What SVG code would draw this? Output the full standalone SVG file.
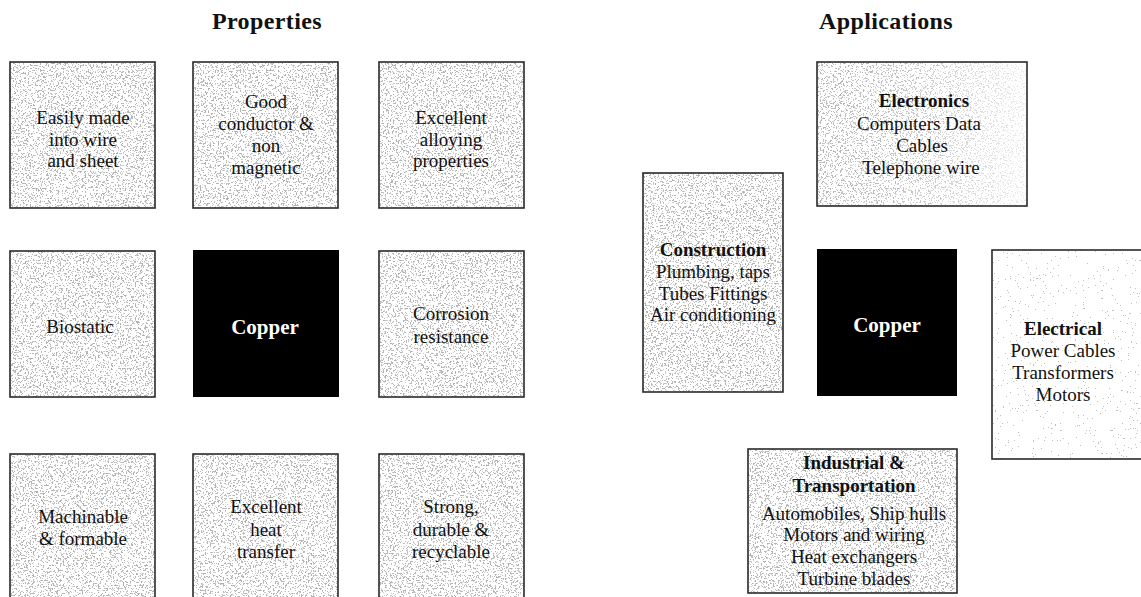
<svg xmlns="http://www.w3.org/2000/svg" width="1141" height="597" viewBox="0 0 1141 597">
  <defs>
    <!-- speckled print texture for the boxes -->
    <filter id="grain" x="0" y="0" width="1" height="1">
      <feTurbulence type="fractalNoise" baseFrequency="0.6" numOctaves="3" seed="7" result="n"/>
      <feColorMatrix in="n" type="matrix" values="0 0 0 0 0.42  0 0 0 0 0.42  0 0 0 0 0.42  3 0 0 0 -1.05" result="a"/>
      <feComponentTransfer in="a">
        <feFuncA type="discrete" tableValues="0 0 0 0 0 0 0 0.6 0.8 0.95"/>
      </feComponentTransfer>
      <feComposite in2="SourceGraphic" operator="in"/>
    </filter>
    <filter id="grainLight" x="0" y="0" width="1" height="1">
      <feTurbulence type="fractalNoise" baseFrequency="0.6" numOctaves="3" seed="3" result="n"/>
      <feColorMatrix in="n" type="matrix" values="0 0 0 0 0.45  0 0 0 0 0.45  0 0 0 0 0.45  4 0 0 0 -2.1" result="a"/>
      <feComponentTransfer in="a">
        <feFuncA type="discrete" tableValues="0 0 0 0 0 0 0 0 0 0.8"/>
      </feComponentTransfer>
      <feComposite in2="SourceGraphic" operator="in"/>
    </filter>
    <!-- fades the speckle toward the right edge of the electronics box -->
    <linearGradient id="fadeR" x1="0" y1="0" x2="1" y2="0">
      <stop offset="0" stop-color="#fff" stop-opacity="1"/>
      <stop offset="0.45" stop-color="#fff" stop-opacity="0.8"/>
      <stop offset="1" stop-color="#fff" stop-opacity="0.25"/>
    </linearGradient>
    <mask id="fadeMask" maskContentUnits="objectBoundingBox">
      <rect width="1" height="1" fill="url(#fadeR)"/>
    </mask>
    <style>
      .box { fill: none; stroke: #2a2a2a; stroke-width: 1.6; }
      .tex { fill: #ffffff; filter: url(#grain); }
      .texL { fill: #ffffff; filter: url(#grainLight); }
      .core { fill: #000000; }
      text { font-family: "Liberation Serif", "Times New Roman", serif; text-anchor: middle; fill: #111; }
      .t { font-size: 19px; }
      .b { font-size: 19px; font-weight: bold; }
      .title { font-size: 24px; font-weight: bold; letter-spacing: 0.4px; }
      .cu { font-size: 21px; font-weight: bold; fill: #ffffff; }
    </style>
  </defs>

  <rect width="1141" height="597" fill="#ffffff"/>

  <!-- headings -->
  <g id="heading-properties"><text class="title" x="267" y="29">Properties</text></g>
  <g id="heading-applications"><text class="title" x="886" y="29">Applications</text></g>

  <!-- Properties grid -->
  <g id="p-wire">
    <rect class="tex" x="10" y="62" width="145" height="146"/>
    <rect class="box" x="10" y="62" width="145" height="146"/>
    <text class="t" x="83" y="124">Easily made</text>
    <text class="t" x="83" y="146">into wire</text>
    <text class="t" x="83" y="167">and sheet</text>
  </g>
  <g id="p-conductor">
    <rect class="tex" x="193" y="62" width="145" height="146"/>
    <rect class="box" x="193" y="62" width="145" height="146"/>
    <text class="t" x="266" y="108">Good</text>
    <text class="t" x="266" y="130">conductor &amp;</text>
    <text class="t" x="266" y="152">non</text>
    <text class="t" x="266" y="174">magnetic</text>
  </g>
  <g id="p-alloying">
    <rect class="tex" x="379" y="62" width="145" height="146"/>
    <rect class="box" x="379" y="62" width="145" height="146"/>
    <text class="t" x="451" y="124">Excellent</text>
    <text class="t" x="451" y="146">alloying</text>
    <text class="t" x="451" y="167">properties</text>
  </g>
  <g id="p-biostatic">
    <rect class="tex" x="10" y="251" width="145" height="146"/>
    <rect class="box" x="10" y="251" width="145" height="146"/>
    <text class="t" x="80" y="333">Biostatic</text>
  </g>
  <g id="p-copper">
    <rect class="core" x="193" y="250" width="146" height="147"/>
    <text class="cu" x="265" y="334">Copper</text>
  </g>
  <g id="p-corrosion">
    <rect class="tex" x="379" y="251" width="145" height="146"/>
    <rect class="box" x="379" y="251" width="145" height="146"/>
    <text class="t" x="451" y="320">Corrosion</text>
    <text class="t" x="451" y="343">resistance</text>
  </g>
  <g id="p-machinable">
    <rect class="tex" x="10" y="454" width="145" height="146"/>
    <rect class="box" x="10" y="454" width="145" height="146"/>
    <text class="t" x="83" y="523">Machinable</text>
    <text class="t" x="83" y="545">&amp; formable</text>
  </g>
  <g id="p-heat">
    <rect class="tex" x="193" y="454" width="145" height="146"/>
    <rect class="box" x="193" y="454" width="145" height="146"/>
    <text class="t" x="266" y="513">Excellent</text>
    <text class="t" x="266" y="536">heat</text>
    <text class="t" x="266" y="558">transfer</text>
  </g>
  <g id="p-strong">
    <rect class="tex" x="379" y="454" width="145" height="146"/>
    <rect class="box" x="379" y="454" width="145" height="146"/>
    <text class="t" x="451" y="513">Strong,</text>
    <text class="t" x="451" y="536">durable &amp;</text>
    <text class="t" x="451" y="558">recyclable</text>
  </g>

  <!-- Applications cluster -->
  <g id="a-electronics">
    <g mask="url(#fadeMask)">
      <rect class="tex" x="817" y="62" width="210" height="144"/>
    </g>
    <rect class="box" x="817" y="62" width="210" height="144"/>
    <text class="b" x="924" y="107">Electronics</text>
    <text class="t" x="919" y="130">Computers Data</text>
    <text class="t" x="922" y="152">Cables</text>
    <text class="t" x="921" y="174">Telephone wire</text>
  </g>
  <g id="a-construction">
    <rect class="tex" x="643" y="173" width="140" height="219"/>
    <rect class="box" x="643" y="173" width="140" height="219"/>
    <text class="b" x="713" y="256">Construction</text>
    <text class="t" x="713" y="278">Plumbing, taps</text>
    <text class="t" x="713" y="300">Tubes Fittings</text>
    <text class="t" x="713" y="321">Air conditioning</text>
  </g>
  <g id="a-copper">
    <rect class="core" x="817" y="249" width="140" height="147"/>
    <text class="cu" x="887" y="332">Copper</text>
  </g>
  <g id="a-electrical">
    <rect class="texL" x="992" y="250" width="152" height="209"/>
    <rect class="box" x="992" y="250" width="152" height="209"/>
    <text class="b" x="1063" y="335">Electrical</text>
    <text class="t" x="1063" y="357">Power Cables</text>
    <text class="t" x="1063" y="379">Transformers</text>
    <text class="t" x="1063" y="401">Motors</text>
  </g>
  <g id="a-industrial">
    <rect class="tex" x="748" y="449" width="209" height="144"/>
    <rect class="box" x="748" y="449" width="209" height="144"/>
    <text class="b" x="854" y="469">Industrial &amp;</text>
    <text class="b" x="854" y="492">Transportation</text>
    <text class="t" x="854" y="520">Automobiles, Ship hulls</text>
    <text class="t" x="854" y="541">Motors and wiring</text>
    <text class="t" x="854" y="563">Heat exchangers</text>
    <text class="t" x="854" y="585">Turbine blades</text>
  </g>

  <!-- no connectors are drawn between the boxes -->
  <g id="connectors"/>
</svg>
